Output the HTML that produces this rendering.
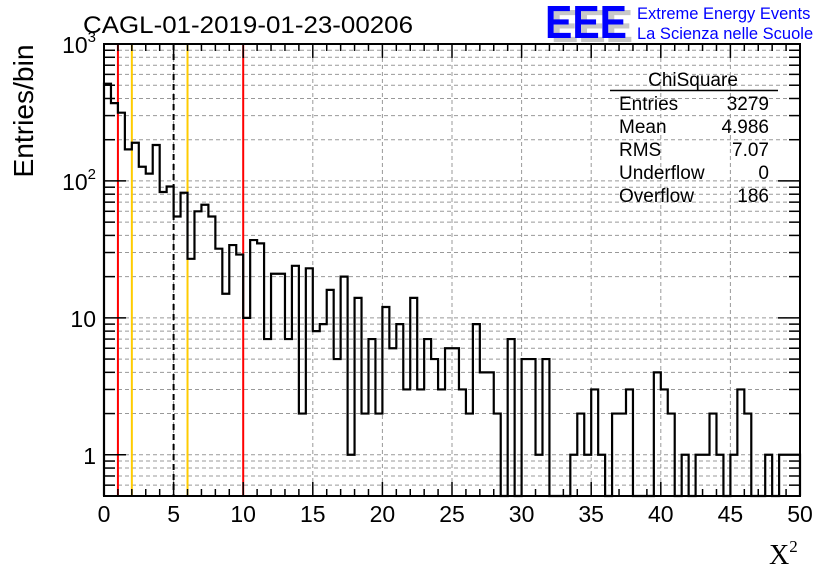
<!DOCTYPE html>
<html><head><meta charset="utf-8"><style>
html,body{margin:0;padding:0;background:#fff;}
svg{display:block;font-family:"Liberation Sans",sans-serif;}
</style></head><body>
<svg id="chart" width="836" height="572" viewBox="0 0 836 572">
<rect width="836" height="572" fill="#fff"/>
<g id="grid"></g>
<g id="vlines"></g>
<g id="hist"></g>
<g id="axes"></g>
<text x="83" y="33" font-size="24" textLength="330" lengthAdjust="spacingAndGlyphs">CAGL-01-2019-01-23-00206</text>
<g>
<text x="551" y="42" font-size="46" font-weight="bold" fill="#c8c8c8" textLength="82" lengthAdjust="spacingAndGlyphs">EEE</text>
<text x="545" y="38" font-size="46" font-weight="bold" fill="#0000ff" textLength="82" lengthAdjust="spacingAndGlyphs">EEE</text>
</g>
<text x="637" y="19" font-size="16.5" fill="#0000ff">Extreme Energy Events</text>
<text x="637" y="39" font-size="16.5" fill="#0000ff">La Scienza nelle Scuole</text>
<g font-size="19">
<text x="693" y="86" text-anchor="middle">ChiSquare</text>
<line x1="610" y1="90.5" x2="778" y2="90.5" stroke="#000" stroke-width="1.5"/>
<text x="619" y="110">Entries</text><text x="769" y="110" text-anchor="end">3279</text>
<text x="619" y="133">Mean</text><text x="769" y="133" text-anchor="end">4.986</text>
<text x="619" y="156">RMS</text><text x="769" y="156" text-anchor="end">7.07</text>
<text x="619" y="179">Underflow</text><text x="769" y="179" text-anchor="end">0</text>
<text x="619" y="202">Overflow</text><text x="769" y="202" text-anchor="end">186</text>
</g>
<text transform="translate(33,111) rotate(-90)" text-anchor="middle" font-size="28" textLength="133" lengthAdjust="spacingAndGlyphs">Entries/bin</text>
<text x="769" y="564" font-size="28" font-family="'Liberation Serif',serif">X<tspan font-size="17" dy="-12">2</tspan></text>
</svg>
<script>
const counts = [513,370,315,170,190,127,113,183,83,91,55,82,27,60,67,55,32,15,34,29,
10,37,35,7,21,21,7,24,2,23,8,9,16,5,20,1,14,2,7,2,
12,6,9,3,14,3,7,5,3,6,6,3,2,9,4,4,2,0,7,0,
5,5,1,5,0,0,0,1,2,1,3,1,0,2,2,3,0,0,0,4,
3,2,0,1,0,1,1,2,1,0,1,3,2,0,0,1,0,1,1,1];
const xTicks = [0,5,10,15,20,25,30,35,40,45,50];
const yDecades = [1,10,100,1000];
const redLines = [1,10];
const yellowLines = [2,6];
const dashedLines = [5];
const binWidth = 0.5;

const L=104,R=800,T=44,B=496,yMin=0.5,yMax=1000;
const NS='http://www.w3.org/2000/svg';
const X=v=>L+(v/50)*(R-L);
const Y=v=>{const c=Math.max(v,yMin);return B-(Math.log10(c)-Math.log10(yMin))/(Math.log10(yMax)-Math.log10(yMin))*(B-T);};
function mk(tag,attrs,parent){const e=document.createElementNS(NS,tag);for(const k in attrs)e.setAttribute(k,attrs[k]);parent.appendChild(e);return e;}
const grid=document.getElementById('grid'),axes=document.getElementById('axes'),hist=document.getElementById('hist'),vl=document.getElementById('vlines');

xTicks.slice(1,-1).forEach(t=>{const l=mk('line',{x1:X(t),x2:X(t),y1:T,y2:B,stroke:'#999','stroke-dasharray':'4,3','stroke-width':1},grid);

});
[0.5,0.6,0.7,0.8,0.9].concat([1,10,100].flatMap(d=>[1,2,3,4,5,6,7,8,9].map(m=>m*d))).forEach(v=>{if(v<=yMin||v>=yMax)return;
const l=mk('line',{x1:L,x2:R,y1:Y(v),y2:Y(v),stroke:'#999','stroke-dasharray':'4,3','stroke-width':1},grid);

});

let d='M'+X(0)+','+B;
counts.forEach((c,i)=>{const y=c>0?Y(c):B;d+=' L'+X(i*binWidth)+','+y+' L'+X((i+1)*binWidth)+','+y;});
d+=' L'+X(50)+','+B;
const hp=mk('path',{d:d,fill:'none',stroke:'#000','stroke-width':2.2},hist);



redLines.forEach(v=>{const l=mk('line',{x1:X(v),x2:X(v),y1:T,y2:B,stroke:'#ff0000','stroke-width':2},vl);

});
yellowLines.forEach(v=>{const l=mk('line',{x1:X(v),x2:X(v),y1:T,y2:B,stroke:'#ffcc00','stroke-width':2},vl);

});
dashedLines.forEach(v=>{const l=mk('line',{x1:X(v),x2:X(v),y1:T,y2:B,stroke:'#000','stroke-width':2,'stroke-dasharray':'6,4'},vl);

});

const fr=mk('rect',{x:L,y:T,width:R-L,height:B-T,fill:'none',stroke:'#000','stroke-width':2},axes);


for(let v=0;v<=50;v+=1){const major=v%5===0;const len=major?14:7;
mk('line',{x1:X(v),x2:X(v),y1:B,y2:B-len,stroke:'#000','stroke-width':1.5},axes);
mk('line',{x1:X(v),x2:X(v),y1:T,y2:T+len,stroke:'#000','stroke-width':1.5},axes);}
xTicks.forEach(t=>{const tx=mk('text',{x:X(t),y:522,'text-anchor':'middle','font-size':23},axes);tx.textContent=t;

});
[0.5,0.6,0.7,0.8,0.9].concat([1,10,100].flatMap(d=>[1,2,3,4,5,6,7,8,9].map(m=>m*d))).concat([1000]).forEach(v=>{
const major=yDecades.includes(v);const len=major?22:11;const y=Y(v);
mk('line',{x1:L,x2:L+len,y1:y,y2:y,stroke:'#000','stroke-width':1.5},axes);
mk('line',{x1:R,x2:R-len,y1:y,y2:y,stroke:'#000','stroke-width':1.5},axes);});
yDecades.forEach(v=>{const y=Y(v);const tx=mk('text',{x:96,y:y+9,'text-anchor':'end','font-size':23},axes);
const e=Math.round(Math.log10(v));
if(e<=1){tx.textContent=String(v);}else{tx.textContent='10';const s=mk('tspan',{'font-size':15,dy:-11},tx);s.textContent=e;}

});
</script>
</body></html>
